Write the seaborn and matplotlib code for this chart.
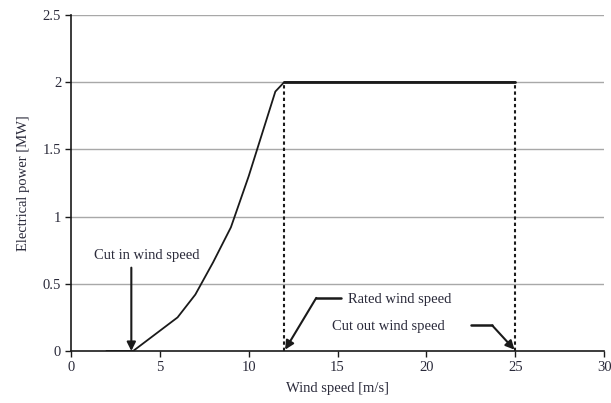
import matplotlib
matplotlib.use("Agg")
import matplotlib.pyplot as plt
import seaborn as sns
import pandas as pd

# power curve
wind_speed = [2, 3.5, 6, 7, 8, 9, 10, 11, 11.5, 12, 25]
power_mw = [0, 0, 0.25, 0.42, 0.66, 0.92, 1.3, 1.72, 1.93, 2.0, 2.0]
cut_in, rated, cut_out = 3.5, 12, 25
rated_power = 2.0
x_ticks = [0, 5, 10, 15, 20, 25, 30]
y_ticks = [0, 0.5, 1, 1.5, 2, 2.5]
y_tick_labels = ["0", "0.5", "1", "1.5", "2", "2.5"]

sns.set_style("white")
plt.rcParams["font.family"] = ["Liberation Serif", "DejaVu Serif"]

df = pd.DataFrame({"ws": wind_speed, "p": power_mw})

fig = plt.figure(figsize=(6.11, 4.03), dpi=100)
ax = fig.add_axes([0.116, 0.129, 0.873, 0.834])

for y in y_ticks[1:]:
    ax.axhline(y, color="#a8a8a8", lw=1.0, zorder=0)

sns.lineplot(data=df, x="ws", y="p", color="#1a1a1a", lw=1.3, ax=ax, zorder=3)
ax.plot([rated, cut_out], [rated_power, rated_power], color="#1a1a1a", lw=2.0, zorder=4)

for xv in [rated, cut_out]:
    ax.plot([xv, xv], [0, rated_power], color="#1a1a1a", lw=1.5,
            linestyle=(0, (1.6, 1.4)), zorder=3)

arrow = dict(arrowstyle="-|>", color="#1a1a1a", lw=1.5, mutation_scale=13,
             shrinkA=0, shrinkB=0)
txt_color = "#2a2a3a"

# cut in
ax.text(1.3, 0.66, "Cut in wind speed", fontsize=10.5, color=txt_color, va="bottom")
ax.annotate("", xy=(3.4, 0), xytext=(3.4, 0.62), arrowprops=arrow)

# rated
ax.text(15.6, 0.38, "Rated wind speed", fontsize=10.5, color=txt_color, va="center")
ax.plot([15.2, 13.8], [0.395, 0.395], color="#1a1a1a", lw=1.8)
ax.annotate("", xy=(12.05, 0.01), xytext=(13.8, 0.395), arrowprops=arrow)

# cut out
ax.text(14.7, 0.185, "Cut out wind speed", fontsize=10.5, color=txt_color, va="center")
ax.plot([22.5, 23.7], [0.19, 0.19], color="#1a1a1a", lw=1.8)
ax.annotate("", xy=(24.95, 0.01), xytext=(23.7, 0.19), arrowprops=arrow)

ax.set_xlim(0, 30)
ax.set_ylim(0, 2.5)
ax.set_xticks(x_ticks)
ax.set_yticks(y_ticks)
ax.set_yticklabels(y_tick_labels)
ax.tick_params(axis="both", direction="out", length=4, width=1, color="#1a1a1a",
               labelsize=10.5, labelcolor=txt_color, pad=3)
ax.tick_params(axis="x", bottom=True)
ax.tick_params(axis="y", left=True)
ax.set_xlabel("Wind speed [m/s]", fontsize=10.5, color=txt_color, labelpad=6)
ax.set_ylabel("Electrical power [MW]", fontsize=10.5, color=txt_color, labelpad=9)

sns.despine(ax=ax, top=True, right=True)
for s in ["left", "bottom"]:
    ax.spines[s].set_color("#1a1a1a")
    ax.spines[s].set_linewidth(1.2)
ax.spines["bottom"].set_zorder(5)

fig.savefig("out.png", dpi=100)
